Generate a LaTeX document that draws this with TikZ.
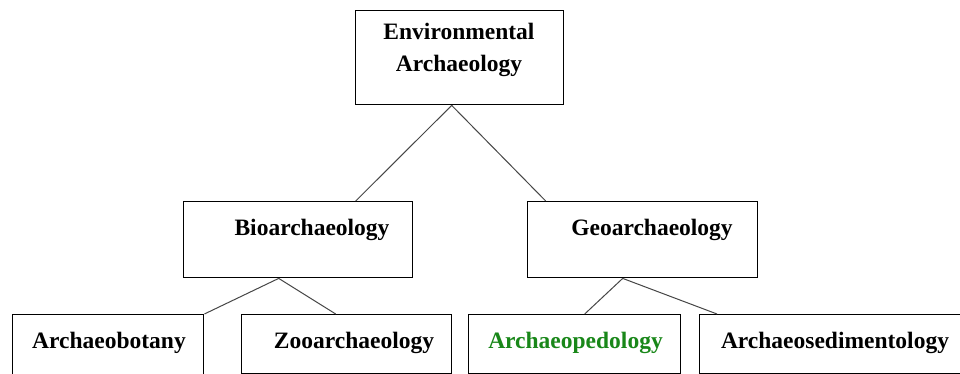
\documentclass[tikz,border=0pt]{standalone}
\usepackage{fontspec}
\setmainfont{Liberation Serif}
\definecolor{greentxt}{RGB}{25,135,25}
\definecolor{linkgray}{RGB}{70,70,70}
\begin{document}
\begin{tikzpicture}[x=1pt,y=-1pt,
  box/.style={draw=black,line width=1.4pt,rectangle,inner sep=0pt,anchor=north west},
  lbl/.style={anchor=base,inner sep=0pt,font=\fontsize{23.5}{30}\selectfont\bfseries},
  link/.style={draw=linkgray,line width=1pt}]
\clip (0,0) rectangle (960,374);
\fill[white] (0,0) rectangle (960,374);
% boxes
\node[box,minimum width=208pt,minimum height=94pt] (env) at (355,10) {};
\node[box,minimum width=229pt,minimum height=76pt] (bio) at (183,201) {};
\node[box,minimum width=230pt,minimum height=76pt] (geo) at (527,201) {};
\node[box,minimum width=191pt,minimum height=62pt] (bot) at (12,314) {};
\node[box,minimum width=210pt,minimum height=59pt] (zoo) at (241,314) {};
\node[box,minimum width=212pt,minimum height=59pt] (ped) at (468,314) {};
\node[box,minimum width=300pt,minimum height=59pt] (sed) at (699,314) {};
% labels
\node[lbl] (envt1) at (459,40) {Environmental};
\node[lbl] (envt2) at (459,72) {Archaeology};
\node[lbl] (biot) at (312,235) {Bioarchaeology};
\node[lbl] (geot) at (652,235) {Geoarchaeology};
\node[lbl] (bott) at (109,348) {Archaeobotany};
\node[lbl] (zoot) at (354,348) {Zooarchaeology};
\node[lbl,text=greentxt] (pedt) at (575.5,348) {Archaeopedology};
\node[lbl] (sedt) at (835,348) {Archaeosedimentology};
% connectors
\draw[link] ([xshift=-8pt]env.south) -- ([xshift=57.5pt]bio.north);
\draw[link] ([xshift=-8pt]env.south) -- ([xshift=-97pt]geo.north);
\draw[link] ([xshift=-19.5pt]bio.south) -- (bot.north east);
\draw[link] ([xshift=-19.5pt]bio.south) -- ([xshift=-11pt]zoo.north);
\draw[link] ([xshift=-20pt]geo.south) -- ([xshift=10pt]ped.north);
\draw[link] ([xshift=-20pt]geo.south) -- ([xshift=18pt]sed.north west);
\end{tikzpicture}
\end{document}
